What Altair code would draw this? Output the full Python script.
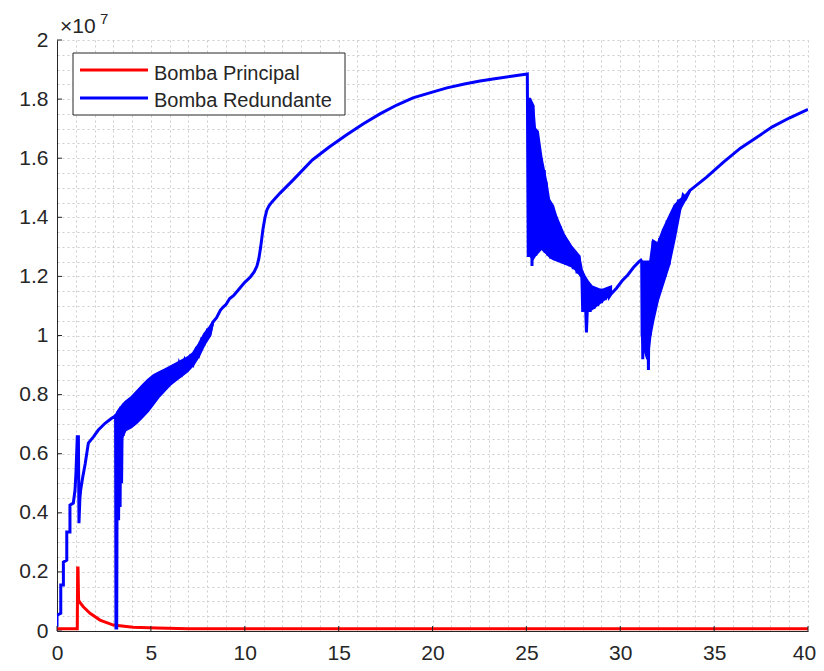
import altair as alt
import pandas as pd

SERIES = ["Bomba Principal", "Bomba Redundante"]
COLORS = ["#ff0000", "#0000ff"]

# values in units of 1e7
red_t = [0.00, 1.08, 1.10, 1.12, 1.15, 1.20, 1.40, 1.76, 2.29, 3.00, 4.05, 5.30, 7.00, 40.00]
red_p = [0.008, 0.008, 0.213, 0.213, 0.105, 0.098, 0.082, 0.060, 0.037, 0.020, 0.013, 0.010, 0.008, 0.008]

blue_t = [
    0.00, 0.00, 0.20, 0.20, 0.34, 0.34, 0.52, 0.52, 0.69, 0.69, 0.87, 0.96, 1.01, 1.08, 1.14, 1.17,
    1.22, 1.26, 1.37, 1.50, 1.67, 1.94, 2.20, 2.56, 2.91, 3.04, 3.12, 3.14, 3.18, 3.21,
    3.24, 3.28, 3.32, 3.36, 3.40, 3.44, 3.48, 3.52, 3.56, 3.65, 3.80, 3.95, 4.10, 4.25, 4.40, 4.55,
    4.70, 4.85, 5.00, 5.15, 5.30, 5.45, 5.60, 5.75, 5.90, 6.05, 6.20, 6.35, 6.50, 6.65, 6.80, 6.95,
    7.10, 7.25, 7.40, 7.55, 7.70, 7.85, 8.00, 8.15, 8.30,
    8.50, 8.70, 8.85, 9.00, 9.20, 9.40, 9.60, 9.80, 10.00, 10.30, 10.50, 10.65, 10.75, 10.85, 10.97,
    11.08, 11.18, 11.30, 11.45, 11.88, 12.57, 13.60, 14.50, 15.45, 16.30, 17.20, 18.10, 18.96, 19.90,
    20.77, 21.70, 22.53, 23.40, 24.30, 25.05,
    25.10, 25.15, 25.20, 25.25, 25.30, 25.35, 25.40, 25.45, 25.50, 25.55, 25.60, 25.70, 25.75, 25.80,
    25.85, 25.95, 26.00, 26.05, 26.15, 26.20, 26.30, 26.40, 26.50, 26.60, 26.70, 26.80, 26.90, 27.00,
    27.10, 27.20, 27.30, 27.40, 27.50, 27.60, 27.70, 27.80, 27.90, 27.95, 28.00, 28.10, 28.20, 28.30,
    28.40, 28.50, 28.60, 28.70, 28.80, 28.90, 29.00, 29.10, 29.20, 29.30, 29.40,
    29.50, 29.80, 30.10, 30.40, 30.70, 31.00, 31.10,
    31.15, 31.20, 31.25, 31.30, 31.35, 31.40, 31.45, 31.50, 31.55, 31.60, 31.65, 31.70, 31.75, 31.80,
    31.90, 32.00, 32.10, 32.20, 32.30, 32.40, 32.50, 32.60, 32.70, 32.80, 32.90, 33.00, 33.10, 33.20,
    33.35, 33.50, 33.70,
    34.60, 35.50, 36.40, 37.30, 38.10, 39.00, 40.00,
]
blue_p = [
    0.014, 0.054, 0.060, 0.156, 0.156, 0.233, 0.240, 0.335, 0.335, 0.426, 0.433, 0.477, 0.535, 0.657, 0.657, 0.365,
    0.450, 0.477, 0.520, 0.565, 0.636, 0.657, 0.680, 0.703, 0.720, 0.725, 0.730, 0.010, 0.010, 0.737,
    0.740, 0.375, 0.750, 0.420, 0.760, 0.500, 0.760, 0.660, 0.770, 0.690, 0.775, 0.700, 0.790, 0.720, 0.810, 0.745,
    0.830, 0.765, 0.855, 0.785, 0.865, 0.810, 0.875, 0.830, 0.885, 0.845, 0.895, 0.860, 0.905, 0.875, 0.915, 0.890,
    0.925, 0.905, 0.950, 0.935, 0.985, 0.975, 1.015, 1.005, 1.045,
    1.060, 1.085, 1.096, 1.105, 1.125, 1.135, 1.150, 1.165, 1.180, 1.198, 1.215, 1.235, 1.260, 1.300, 1.360,
    1.400, 1.425, 1.440, 1.452, 1.482, 1.526, 1.594, 1.638, 1.680, 1.716, 1.750, 1.780, 1.804, 1.822,
    1.838, 1.851, 1.861, 1.870, 1.878, 1.885,
    1.266, 1.800, 1.270, 1.790, 1.235, 1.780, 1.270, 1.700, 1.270, 1.690, 1.280, 1.620, 1.290, 1.600,
    1.295, 1.560, 1.280, 1.520, 1.270, 1.460, 1.260, 1.440, 1.255, 1.400, 1.250, 1.370, 1.245, 1.340,
    1.240, 1.320, 1.235, 1.300, 1.225, 1.285, 1.210, 1.270, 1.200, 1.220, 1.080, 1.200, 1.010, 1.180,
    1.080, 1.165, 1.090, 1.160, 1.100, 1.155, 1.110, 1.155, 1.120, 1.160, 1.130,
    1.140, 1.160, 1.185, 1.205, 1.230, 1.250, 1.255,
    1.250, 0.920, 1.250, 1.000, 1.240, 0.950, 1.250, 0.883, 1.200, 1.000, 1.250, 1.050, 1.320, 1.100,
    1.300, 1.150, 1.330, 1.170, 1.360, 1.200, 1.390, 1.240, 1.410, 1.330, 1.440, 1.390, 1.460, 1.430,
    1.475, 1.465, 1.490,
    1.536, 1.587, 1.634, 1.672, 1.706, 1.736, 1.765,
]

# envelopes of the densely oscillating stretches of the blue series
band_t = [
    3.22, 3.50, 3.65, 3.95, 4.25, 4.55, 4.85, 5.15, 5.45, 5.75, 6.05, 6.35, 6.65, 6.95, 7.25, 7.55, 7.85, 8.15, 8.30,
    25.10, 25.20, 25.35, 25.45, 25.60, 25.80, 26.05, 26.20, 26.40, 26.60, 26.80, 27.00, 27.20, 27.40, 27.60,
    27.80, 27.95, 28.10, 28.30, 28.50, 28.70, 28.90, 29.10, 29.30, 29.50,
    31.15, 31.30, 31.45, 31.60, 31.75, 32.00, 32.30, 32.60, 32.90, 33.20, 33.50, 33.70,
]
band_lo = [
    0.70, 0.66, 0.68, 0.69, 0.705, 0.725, 0.745, 0.77, 0.795, 0.815, 0.835, 0.85, 0.865, 0.88, 0.90, 0.93, 0.97, 1.00, 1.045,
    1.27, 1.27, 1.26, 1.27, 1.28, 1.295, 1.28, 1.27, 1.26, 1.255, 1.25, 1.245, 1.24, 1.235, 1.225,
    1.21, 1.20, 1.11, 1.09, 1.09, 1.10, 1.11, 1.12, 1.13, 1.14,
    1.00, 0.95, 0.92, 1.00, 1.05, 1.12, 1.18, 1.24, 1.33, 1.43, 1.465, 1.49,
]
band_hi = [
    0.74, 0.765, 0.775, 0.79, 0.81, 0.83, 0.85, 0.865, 0.875, 0.885, 0.895, 0.905, 0.915, 0.925, 0.94, 0.97, 1.005, 1.03, 1.045,
    1.80, 1.80, 1.78, 1.70, 1.69, 1.60, 1.52, 1.46, 1.44, 1.40, 1.37, 1.34, 1.32, 1.30, 1.285,
    1.27, 1.22, 1.20, 1.18, 1.165, 1.16, 1.155, 1.155, 1.16, 1.165,
    1.25, 1.25, 1.25, 1.25, 1.32, 1.31, 1.36, 1.40, 1.44, 1.46, 1.475, 1.49,
]
band_id = [1] * 19 + [2] * 25 + [3] * 12

x_ticks = [0, 5, 10, 15, 20, 25, 30, 35, 40]
y_ticks = [0, 0.2, 0.4, 0.6, 0.8, 1, 1.2, 1.4, 1.6, 1.8, 2]
x_grid = list(range(0, 41))
y_grid = [round(k * 0.05, 2) for k in range(41)]

W, H = 751, 591
FONT = "Liberation Sans"
TXT = "#262626"
GRID = "#cccccc"

red_df = pd.DataFrame({"t": red_t, "p": red_p, "i": list(range(len(red_t)))})
blue_df = pd.DataFrame({"t": blue_t, "p": blue_p, "i": list(range(len(blue_t)))})
band_df = pd.DataFrame({"t": band_t, "lo": band_lo, "hi": band_hi, "g": band_id})

x_scale = alt.Scale(domain=[0, 40], nice=False, zero=False)
y_scale = alt.Scale(domain=[0, 2], nice=False, zero=False)

x_axis = alt.Axis(
    values=x_grid, labelExpr="datum.value % 5 == 0 ? datum.label : ''",
    ticks=False, grid=True, gridColor=GRID, gridDash=[2, 3], gridWidth=1,
    domainColor=TXT, domainWidth=1, labelFont=FONT, labelFontSize=21, labelColor=TXT,
    labelPadding=11, labelFlush=False, labelOverlap=False, title=None, format="d",
    labelOffset={"condition": {"test": "datum.value == 40", "value": -4}, "value": 0},
)
y_axis = alt.Axis(
    values=y_grid, format="~g",
    labelExpr="abs(datum.value * 5 - round(datum.value * 5)) < 0.000001 ? datum.label : ''",
    ticks=False, grid=True, gridColor=GRID, gridDash=[2, 3], gridWidth=1,
    domainColor=TXT, domainWidth=1, labelFont=FONT, labelFontSize=21, labelColor=TXT,
    labelPadding=9, labelFlush=False, labelOverlap=False, title=None,
)


def X(field):
    return alt.X(field, scale=x_scale, axis=x_axis)


def Y(field):
    return alt.Y(field, scale=y_scale, axis=y_axis)


red_line = alt.Chart(red_df).mark_line(color=COLORS[0], strokeWidth=3, clip=True).encode(
    x=X("t:Q"), y=Y("p:Q"), order="i:Q",
)
blue_band = alt.Chart(band_df).mark_area(
    color=COLORS[1], stroke=COLORS[1], strokeWidth=2.5, opacity=1, clip=True
).encode(
    x=X("t:Q"), y=Y("lo:Q"), y2="hi:Q", detail="g:N",
)
blue_line = alt.Chart(blue_df).mark_line(color=COLORS[1], strokeWidth=3, clip=True).encode(
    x=X("t:Q"), y=Y("p:Q"), order="i:Q",
)

xt_df = pd.DataFrame({"v": x_ticks})
yt_df = pd.DataFrame({"v": y_ticks})
x_tick_marks = alt.Chart(xt_df).mark_rule(color=TXT, strokeWidth=1).encode(
    x=X("v:Q"), y=alt.value(H), y2=alt.value(H - 5)
)
y_tick_marks = alt.Chart(yt_df).mark_rule(color=TXT, strokeWidth=1).encode(
    y=Y("v:Q"), x=alt.value(0), x2=alt.value(5)
)

one = pd.DataFrame({"a": [0]})
leg_box = alt.Chart(one).mark_rect(fill="white", stroke=TXT, strokeWidth=1).encode(
    x=alt.value(16), x2=alt.value(288), y=alt.value(13), y2=alt.value(75)
)
leg_red = alt.Chart(one).mark_rule(color=COLORS[0], strokeWidth=3).encode(
    x=alt.value(23), x2=alt.value(91), y=alt.value(30)
)
leg_blue = alt.Chart(one).mark_rule(color=COLORS[1], strokeWidth=3).encode(
    x=alt.value(23), x2=alt.value(91), y=alt.value(58)
)
leg_t1 = alt.Chart(one).mark_text(
    text=SERIES[0], font=FONT, fontSize=20, color=TXT, align="left", baseline="alphabetic"
).encode(x=alt.value(97), y=alt.value(40))
leg_t2 = alt.Chart(one).mark_text(
    text=SERIES[1], font=FONT, fontSize=20, color=TXT, align="left", baseline="alphabetic"
).encode(x=alt.value(97), y=alt.value(67))

exp_a = alt.Chart(one).mark_text(
    text="×10", font=FONT, fontSize=21, color=TXT, align="left", baseline="alphabetic"
).encode(x=alt.value(3), y=alt.value(-7))
exp_b = alt.Chart(one).mark_text(
    text="7", font=FONT, fontSize=15, color=TXT, align="left", baseline="alphabetic"
).encode(x=alt.value(43), y=alt.value(-16))

chart = alt.layer(
    red_line, blue_band, blue_line, x_tick_marks, y_tick_marks,
    leg_box, leg_red, leg_blue, leg_t1, leg_t2, exp_a, exp_b,
).properties(
    width=W, height=H,
    autosize=alt.AutoSizeParams(type="none"),
    padding={"left": 49, "top": 32, "right": 8, "bottom": 32},
).configure_view(stroke=None)

chart.save("out.html", embed_options={"renderer": "svg", "actions": False})
